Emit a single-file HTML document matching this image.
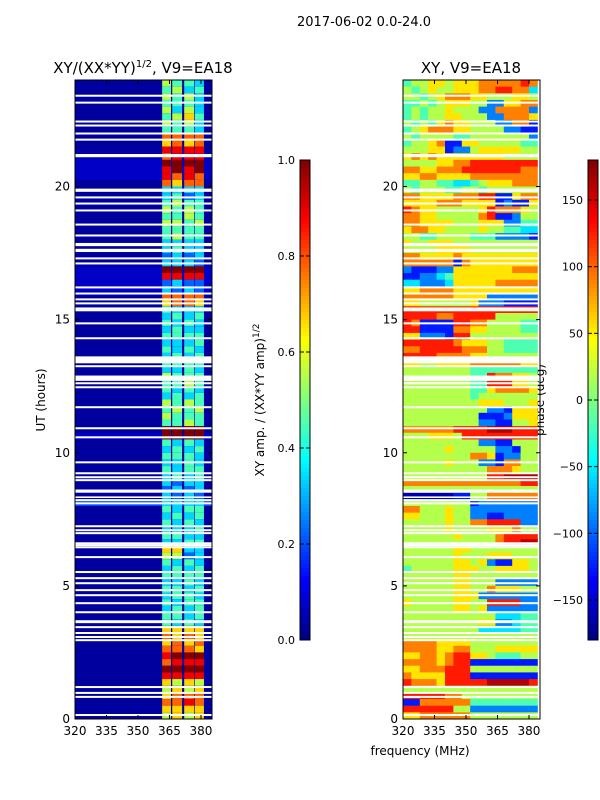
<!DOCTYPE html>
<html><head><meta charset="utf-8"><style>
html,body{margin:0;padding:0;background:#fff;}
svg{display:block;font-family:"DejaVu Sans","Liberation Sans",sans-serif;}
</style></head><body>
<svg id="fig" width="600" height="800" viewBox="0 0 600 800" xmlns="http://www.w3.org/2000/svg">
<text x="364" y="26" font-size="13" text-anchor="middle">2017-06-02 0.0-24.0</text>
<text x="143" y="73" font-size="15" text-anchor="middle">XY/(XX*YY)<tspan font-size="10" dy="-6">1/2</tspan><tspan dy="6">, V9=EA18</tspan></text>
<text x="471" y="73" font-size="15" text-anchor="middle">XY, V9=EA18</text>
<text x="420" y="755" font-size="12" text-anchor="middle">frequency (MHz)</text>
<text x="45" y="400" font-size="12" text-anchor="middle" transform="rotate(-90 45 400)">UT (hours)</text>
<text x="264" y="400" font-size="12" text-anchor="middle" transform="rotate(-90 264 400)">XY amp. / (XX*YY amp)<tspan font-size="9" dy="-5">1/2</tspan></text>
<text x="544" y="400" font-size="12" text-anchor="middle" transform="rotate(-90 544 400)">phase (deg)</text>
<g id="left"></g>
<g id="right"></g>
<g id="axes"></g>
</svg>
<script>
// ---- data ----
const timeStart = 24, rowHours = 0.25;
const freqTicks = [320, 335, 350, 365, 380];
const timeTicks = [0, 5, 10, 15, 20];
const ampTicks = [0.0, 0.2, 0.4, 0.6, 0.8, 1.0];
const phaseTicks = [-150, -100, -50, 0, 50, 100, 150];
const bandLo = [361.5, 366.3, 372.0, 377.0];
const bandHi = [365.7, 371.0, 376.7, 381.4];
// background amplitude levels for bg digit 0..3
const bgLevels = [0.03, 0.07, 0.12, 0.2];
// rows top (24h) to bottom: background digit then 4 band digits (0-9 -> 0..1)
const ampRows = ["05443","04534","05453","04443","05353","04564","05453","04443","07777","06767","08888","17888","19999","18989","18787","07677","03333","03423","04544","05454","04454","05545","04444","04544","03333","03433","02323","03332","19999","18888","12322","13232","07777","06776","04333","03434","04343","03433","04444","03334","04343","03434","04444","03343","05444","04454","04343","03434","05454","04545","05444","04454","09999","19999","04343","03434","04443","03343","04344","03434","03233","02323","03232","33333","04344","03434","04343","03334","04433","03344","06633","05523","04343","03434","04444","03343","04434","03443","04344","03434","04434","04343","06666","07676","06767","07776","08999","07888","09999","08888","06565","05656","06777","07787","06666","05656"];
// phase rows top to bottom, 16 cols of 4 MHz from 320, digit d -> -180+(d+0.5)*36
const phaseColStart = 320, phaseColWidth = 4;
const phaseRows = ["4556656667777787","5456556667788773","5545677766555665","4454566655226677","4545565552277772","4545566555227776","5454676655522771","4567776655552211","5455554455555552","4556711665555544","5556612256666655","6767666666665555","5555667788888888","7766777888888877","6677666677777777","4455443345666777","5455544554555555","7766667778811677","6666777666612116","8766555556877765","7766555557811255","7766665556662244","6776655556554433","5544555544422221","6556665555555555","5555666655555555","7766667666666666","7777771766666666","2111226666666777","1122346666666666","3322236666677777","6677776666666666","7777776666222222","6655555562221111","8888888888888888","8888778888855555","8711118877555544","8811117766555544","6622218855555555","8888887666554444","7788888777554444","8888777766555555","6655666677777766","5555555544444444","5555555544877665","5555555544888665","5555555544677776","5555555545555555","5555555556665556","5555555555221666","5555555551112666","5555555552211556","7777778888999888","5556665888888888","5555555552211555","5555565555522155","5555555577612255","5555565552217755","5555555555777655","5555555555889999","7777777777777788","5555555555555555","0000001155777777","5555555512222222","7755565522222222","6655565522112222","5555565577888822","5555565555666755","5555556555578888","5555555555578899","5555556655555555","5555556555666555","5555556656211665","4555556665566665","5555556655555555","5555556655522222","5555556655766655","5555556662222222","6555556655888822","5555556656222222","5555555555533344","5555555556622344","5555555553333344","5555555555555555","7777666655555555","7777667755566666","6677678866544455","7777678811111111","6677788855555555","7666688811111111","8777688888999998","5555555555555555","8888877555555555","1177777744444444","8888885522222222","6677777755555555"];
const gapTimes = [23.41,23.15,22.44,22.29,21.99,21.76,19.59,19.36,19.1,18.57,18.16,17.3,17.11,16.21,15.98,15.76,15.61,15.42,15.35,14.86,14.3,13.25,12.61,12.46,11.71,10.92,10.58,9.64,9.23,9.08,8.97,8.22,8.1,7.24,7.09,6.98,6.6,6.53,6.45,6.08,5.52,5.29,5.1,4.84,4.65,4.35,4.01,3.45,3.23,3.08,2.96,1.2,0.98,0.83,0.15];
const gapBlocks = [[21.1,21.22],[19.8,19.92],[17.76,17.88],[17.54,17.66],[13.36,13.62],[12.7,12.9],[8.5,8.62],[8.3,8.36],[3.6,3.71]];

// ---- scales ----
const NS = "http://www.w3.org/2000/svg";
const F0 = 320, F1 = 385.24, PY0 = 80, PY1 = 719;
const panels = [{x0:75,x1:212}, {x0:403,x1:540}];
function xs(p, f){ return p.x0 + (f - F0) / (F1 - F0) * (p.x1 - p.x0); }
function ys(t){ return PY1 - t / 24 * (PY1 - PY0); }
function jet(v){
  v = Math.max(0, Math.min(1, v));
  const c = x => Math.round(255 * Math.max(0, Math.min(1, x)));
  return `rgb(${c(1.5-Math.abs(4*v-3))},${c(1.5-Math.abs(4*v-2))},${c(1.5-Math.abs(4*v-1))})`;
}
function el(tag, attrs, parent){
  const e = document.createElementNS(NS, tag);
  for (const k in attrs) e.setAttribute(k, attrs[k]);
  parent.appendChild(e); return e;
}
const L = document.getElementById('left'), R = document.getElementById('right'), A = document.getElementById('axes');

// left heatmap
ampRows.forEach((row, i) => {
  const tTop = timeStart - i * rowHours, tBot = tTop - rowHours;
  const y = ys(tTop), h = ys(tBot) - ys(tTop) + 0.4;
  const bg = el('rect', {x:panels[0].x0, y:y, width:panels[0].x1-panels[0].x0, height:h, fill:jet(bgLevels[+row[0]])}, L);
  
  
  for (let b = 0; b < 4; b++) {
    const xa = xs(panels[0], bandLo[b]), xb = xs(panels[0], bandHi[b]);
    const r = el('rect', {x:xa, y:y, width:xb-xa, height:h, fill:jet(+row[b+1]/9)}, L);
    
    
  }
});
// right heatmap
phaseRows.forEach((row, i) => {
  const tTop = timeStart - i * rowHours, tBot = tTop - rowHours;
  const y = ys(tTop), h = ys(tBot) - ys(tTop) + 0.4;
  for (let c = 0; c < row.length; c++) {
    const fa = phaseColStart + c * phaseColWidth;
    const fb = Math.min(F1, fa + phaseColWidth);
    const xa = xs(panels[1], fa), xb = xs(panels[1], fb);
    const ph = -180 + (+row[c] + 0.5) * 36;
    const r = el('rect', {x:xa, y:y, width:xb-xa+0.4, height:h, fill:jet((ph+180)/360)}, R);
    
    
  }
});
// gaps
[L, R].forEach((g, pi) => {
  const p = panels[pi];
  gapTimes.forEach(t => {
    const r = el('rect', {x:p.x0, y:ys(t)-1, width:p.x1-p.x0, height:2, fill:'#fff'}, g);
    
    
  });
  gapBlocks.forEach(b => {
    const r = el('rect', {x:p.x0, y:ys(b[1]), width:p.x1-p.x0, height:ys(b[0])-ys(b[1]), fill:'#fff'}, g);
    
    
  });
});
// axes frames and ticks
panels.forEach((p, pi) => {
  const fr = el('rect', {x:p.x0, y:PY0, width:p.x1-p.x0, height:PY1-PY0, fill:'none', stroke:'#000', 'stroke-width':1}, A);
  
  
  freqTicks.forEach(f => {
    const x = xs(p, f);
    el('line', {x1:x, x2:x, y1:PY1, y2:PY1-4, stroke:'#000'}, A);
    el('line', {x1:x, x2:x, y1:PY0, y2:PY0+4, stroke:'#000'}, A);
    const t = el('text', {x:x, y:PY1+16, 'font-size':12, 'text-anchor':'middle'}, A);
    t.textContent = f;
    
    
  });
  timeTicks.forEach(v => {
    const y = ys(v);
    el('line', {x1:p.x0, x2:p.x0+4, y1:y, y2:y, stroke:'#000'}, A);
    el('line', {x1:p.x1, x2:p.x1-4, y1:y, y2:y, stroke:'#000'}, A);
    const t = el('text', {x:p.x0-5, y:y+4, 'font-size':12, 'text-anchor':'end'}, A);
    t.textContent = v;
    
    
  });
});
// colorbars
function colorbar(x, lo, hi, ticks, name, fmt){
  const y0 = 160, y1 = 640, w = 10, n = 120;
  for (let i = 0; i < n; i++) {
    const r = el('rect', {x:x, y:y0 + (y1-y0)*i/n, width:w, height:(y1-y0)/n+0.5, fill:jet(1 - (i+0.5)/n)}, A);
    
    
  }
  const fr = el('rect', {x:x, y:y0, width:w, height:y1-y0, fill:'none', stroke:'#000', 'stroke-width':1}, A);
  
  
  ticks.forEach(v => {
    const y = y1 - (v - lo) / (hi - lo) * (y1 - y0);
    el('line', {x1:x, x2:x+4, y1:y, y2:y, stroke:'#000'}, A);
    el('line', {x1:x+w, x2:x+w-4, y1:y, y2:y, stroke:'#000'}, A);
    const t = el('text', {x:x-5, y:y+4, 'font-size':11, 'text-anchor':'end'}, A);
    t.textContent = fmt(v);
    
    
  });
}
colorbar(300, 0, 1, ampTicks, 'amp-colorbar', v => v.toFixed(1));
colorbar(588, -180, 180, phaseTicks, 'phase-colorbar', v => v < 0 ? '\u2212' + Math.abs(v) : String(v));
</script>
</body></html>
